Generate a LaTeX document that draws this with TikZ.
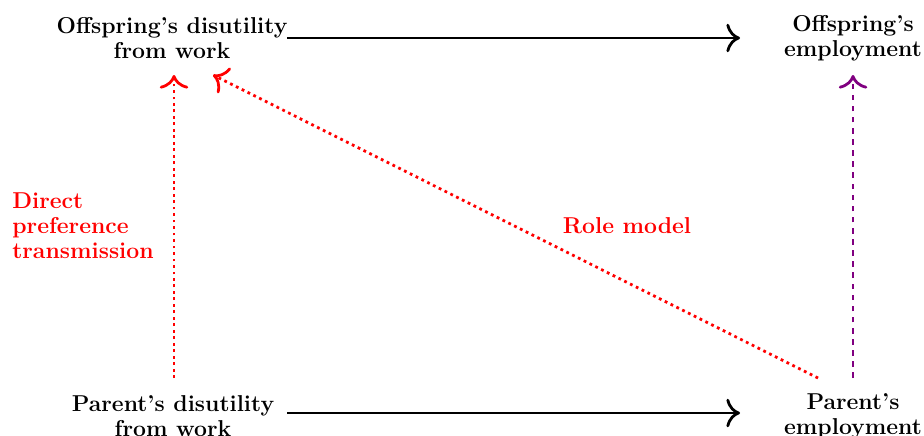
\documentclass[tikz,border=0pt]{standalone}
\usetikzlibrary{arrows.meta}
\definecolor{pviolet}{RGB}{128,0,128}
\begin{document}
\begin{tikzpicture}[x=0.54pt,y=-0.54pt, >={To[scale=1.5]},
  lbl/.style={font=\fontsize{12.4}{13.5}\selectfont\bfseries, align=center, inner sep=0pt},
  redlbl/.style={font=\fontsize{12.4}{13.5}\selectfont\bfseries, text=red, inner sep=0pt},
  mainarrow/.style={->, line width=1.5pt},
  redarrow/.style={->, red, dotted, line width=1.5pt},
  purarrow/.style={->, pviolet, dashed, line width=1.5pt}]
\useasboundingbox (0,0) rectangle (924,435);
\node[lbl] (od) at (172,38) {Offspring's disutility\\from work};
\node[lbl] (oe) at (853,38) {Offspring's\\employment};
\node[lbl] (pd) at (173,416) {Parent's disutility\\from work};
\node[lbl] (pe) at (853,416) {Parent's\\employment};
\coordinate (odA) at (174,75);
\coordinate (odB) at (213,75);
\coordinate (oeA) at (853,75);
\coordinate (pdA) at (174,378);
\coordinate (peA) at (818,378);
\coordinate (peB) at (853,378);
\coordinate (t1s) at (287,38);
\coordinate (t1e) at (740,38);
\coordinate (t2s) at (287,413);
\coordinate (t2e) at (740,413);
\draw[mainarrow] (t1s) -- (t1e);
\draw[mainarrow] (t2s) -- (t2e);
\draw[redarrow] (pdA) -- (odA);
\draw[redarrow] (peA) -- (odB);
\draw[purarrow] (peB) -- (oeA);
\node[redlbl, align=left, anchor=west] (dpt) at (12,226) {Direct\\preference\\transmission};
\node[redlbl] (rm) at (627,226) {Role model};
\end{tikzpicture}
\end{document}
